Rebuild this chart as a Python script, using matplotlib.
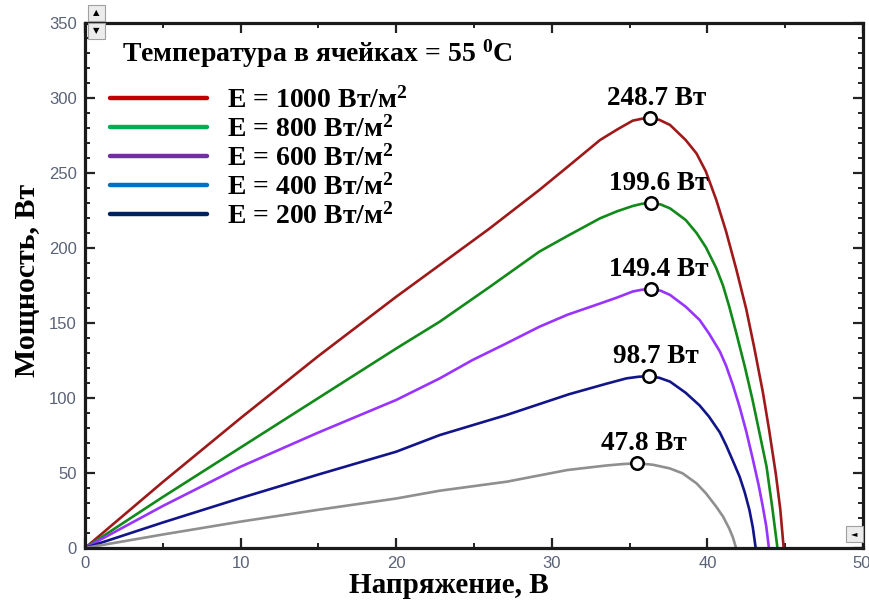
import matplotlib
matplotlib.use("Agg")
import matplotlib.pyplot as plt
from matplotlib.lines import Line2D
from matplotlib.patches import Rectangle
from matplotlib.ticker import MultipleLocator, FuncFormatter

plt.rcParams['font.family'] = ['Liberation Serif', 'DejaVu Serif']
plt.rcParams['mathtext.fontset'] = 'custom'
plt.rcParams['mathtext.rm'] = 'Liberation Serif:bold'
plt.rcParams['mathtext.it'] = 'Liberation Serif:bold'
plt.rcParams['mathtext.bf'] = 'Liberation Serif:bold'

# --- curves: voltage (V) vs power (W) ---
v_1000 = [0, 5, 10, 15, 20, 22.8, 26, 29.2, 31, 33.1, 34.2, 35.2, 35.8, 36.3, 36.9, 37.6, 38.6,
          39.3, 39.9, 40.57, 41.2, 41.85, 42.5, 43.0, 43.56, 43.96, 44.4, 44.68, 44.9]
p_1000 = [0, 44, 86.6, 128, 167.5, 188.7, 213, 238.7, 254, 272, 279, 284.9, 286.2, 286.5, 285.5, 282, 272,
          263, 251, 232, 211, 186, 159, 134, 104, 79, 49, 26, 0]

v_800 = [0, 5, 10, 15, 20, 22.8, 26, 29.2, 31, 33.1, 34.2, 35.2, 35.8, 36.4, 37.0, 37.6, 38.6,
         39.3, 39.9, 40.57, 41.0, 41.4, 41.85, 42.4, 42.9, 43.35, 43.8, 44.16, 44.5]
p_800 = [0, 34, 67, 100, 133, 150.9, 174, 197.6, 208, 219.8, 224.5, 228, 229.5, 230, 229, 226.4, 218.7,
         210, 200.5, 186.5, 175, 161, 143.5, 121, 98.7, 76.5, 54.2, 27.5, 0]

v_600 = [0, 5, 10, 15, 20, 22.8, 24.9, 27, 29.2, 31, 33.1, 34.2, 35.2, 35.8, 36.4, 37.0, 37.6, 38.6,
         39.5, 40.1, 40.8, 41.2, 41.64, 42.07, 42.5, 42.9, 43.3, 43.56, 43.78, 43.95]
p_600 = [0, 28, 54.2, 77, 98.7, 113.1, 125.3, 136, 147.5, 155.5, 163, 167, 171, 172.2, 172.7, 171.5, 168.7, 160.9,
         152, 143, 131, 121.5, 108.5, 94, 77.5, 60, 41.5, 27.5, 14.5, 0]

v_400 = [0, 5, 10, 15, 20, 22.8, 27.1, 31.1, 33.5, 34.8, 35.6, 36.25, 36.9, 37.6, 38.6, 39.5, 40.1,
         40.8, 41.2, 41.64, 42.07, 42.4, 42.7, 42.92, 43.1]
p_400 = [0, 17, 33.3, 49, 64.2, 75.3, 88.7, 102.5, 109.5, 113.1, 114.2, 114.5, 113.5, 110.9, 103.5, 95, 87.6,
         77, 68.5, 58, 47.5, 37, 25.3, 13.5, 0]

v_200 = [0, 5, 10, 15, 20, 22.8, 27.1, 31, 33.5, 34.6, 35.5, 36.5, 37.57, 38.4, 39.3, 39.9,
         40.57, 41.0, 41.4, 41.64, 41.84]
p_200 = [0, 9, 17.6, 25.5, 33, 38.2, 44.2, 52, 55, 56, 56.5, 55.5, 53.1, 49.8, 43.1, 36.5,
         27.5, 21, 13, 7, 0]

curve_colors = ['#9e1a1a', '#118a1a', '#9933ff', '#12148a', '#8f8f8f']

# maximum power points and their labels
peak_v = [36.3, 36.4, 36.4, 36.25, 35.5]
peak_p = [286.5, 230, 172.7, 114.5, 56.5]
peak_labels = ['248.7 Вт', '199.6 Вт', '149.4 Вт', '98.7 Вт', '47.8 Вт']

legend_labels = ['E = 1000 Вт/м$^2$', 'E = 800 Вт/м$^2$', 'E = 600 Вт/м$^2$',
                 'E = 400 Вт/м$^2$', 'E = 200 Вт/м$^2$']
legend_colors = ['#c00000', '#00b050', '#7030a0', '#0070c0', '#002060']

x_max, y_max = 50, 350
tick_color = '#5a6277'

fig = plt.figure(figsize=(8.7, 6.05), dpi=100)
ax = fig.add_axes([0.0977, 0.0942, 0.8943, 0.8678])

curves = [(v_1000, p_1000), (v_800, p_800), (v_600, p_600), (v_400, p_400), (v_200, p_200)]
for (v, p), c in zip(curves, curve_colors):
    ax.plot(v, p, color=c, lw=1.9, solid_joinstyle='round')

ax.plot(peak_v, peak_p, 'o', ms=9, mfc='white', mec='black', mew=1.8, zorder=5)
for x, y, s in zip(peak_v, peak_p, peak_labels):
    ax.annotate(s, (x, y), xytext=(5, 5), textcoords='offset points',
                ha='center', va='bottom', fontsize=19.5, fontweight='bold')

ax.set_xlim(0, x_max)
ax.set_ylim(0, y_max)
ax.xaxis.set_major_locator(MultipleLocator(10))
ax.xaxis.set_minor_locator(MultipleLocator(5))
ax.yaxis.set_major_locator(MultipleLocator(50))
ax.yaxis.set_minor_locator(MultipleLocator(10))
# last x label sits on the frame border, it is drawn separately below
ax.xaxis.set_major_formatter(FuncFormatter(lambda v, pos: '' if v >= x_max else f'{v:g}'))
ax.tick_params(which='both', direction='in', top=True, right=True, color='#222222')
ax.tick_params(which='major', length=7, width=1.6, labelsize=12,
               labelcolor=tick_color, labelfontfamily='Liberation Sans', pad=6)
ax.tick_params(which='minor', length=3.5, width=1.4)
for sp in ax.spines.values():
    sp.set_linewidth(2.3)
    sp.set_color('#1a1a1a')

ax.annotate(f'{x_max:g}', (x_max, 0), xycoords='data', xytext=(6, -6),
            textcoords='offset points', ha='right', va='top', fontsize=12,
            color=tick_color, family='Liberation Sans', annotation_clip=False)

ax.set_xlabel('Напряжение, В', fontsize=21, fontweight='bold')
ax.set_ylabel('Мощность, Вт', fontsize=21.5, fontweight='bold')
ax.xaxis.set_label_coords(0.468, -0.046)
ax.yaxis.set_label_coords(-0.056, 0.51)

ax.text(0.0476, 0.926, 'Температура в ячейках = 55 $^{0}$C', transform=ax.transAxes,
        fontsize=20, fontweight='bold', va='baseline', ha='left')

handles = [Line2D([], [], color=c, lw=3.2, solid_capstyle='round') for c in legend_colors]
leg = ax.legend(handles, legend_labels, loc='upper left', bbox_to_anchor=(0.032, 0.878),
                frameon=False, handlelength=3.5, handletextpad=0.7, labelspacing=0.09,
                borderpad=0, borderaxespad=0,
                prop={'family': 'Liberation Serif', 'weight': 'bold', 'size': 20})

# little scroll buttons of the original plotting widget
for (bx, by, glyph) in [(88, 5, '▲'), (88, 23, '▼'), (846, 526, '◄')]:
    fig.add_artist(Rectangle((bx / 870, 1 - (by + 16) / 605), 17 / 870, 16 / 605,
                             transform=fig.transFigure, facecolor='#ececec',
                             edgecolor='#a0a0a0', lw=0.8, zorder=10))
    fig.text((bx + 8.5) / 870, 1 - (by + 8) / 605, glyph, fontsize=6,
             family='DejaVu Sans', ha='center', va='center', zorder=11)

fig.savefig('out.png', dpi=100)
